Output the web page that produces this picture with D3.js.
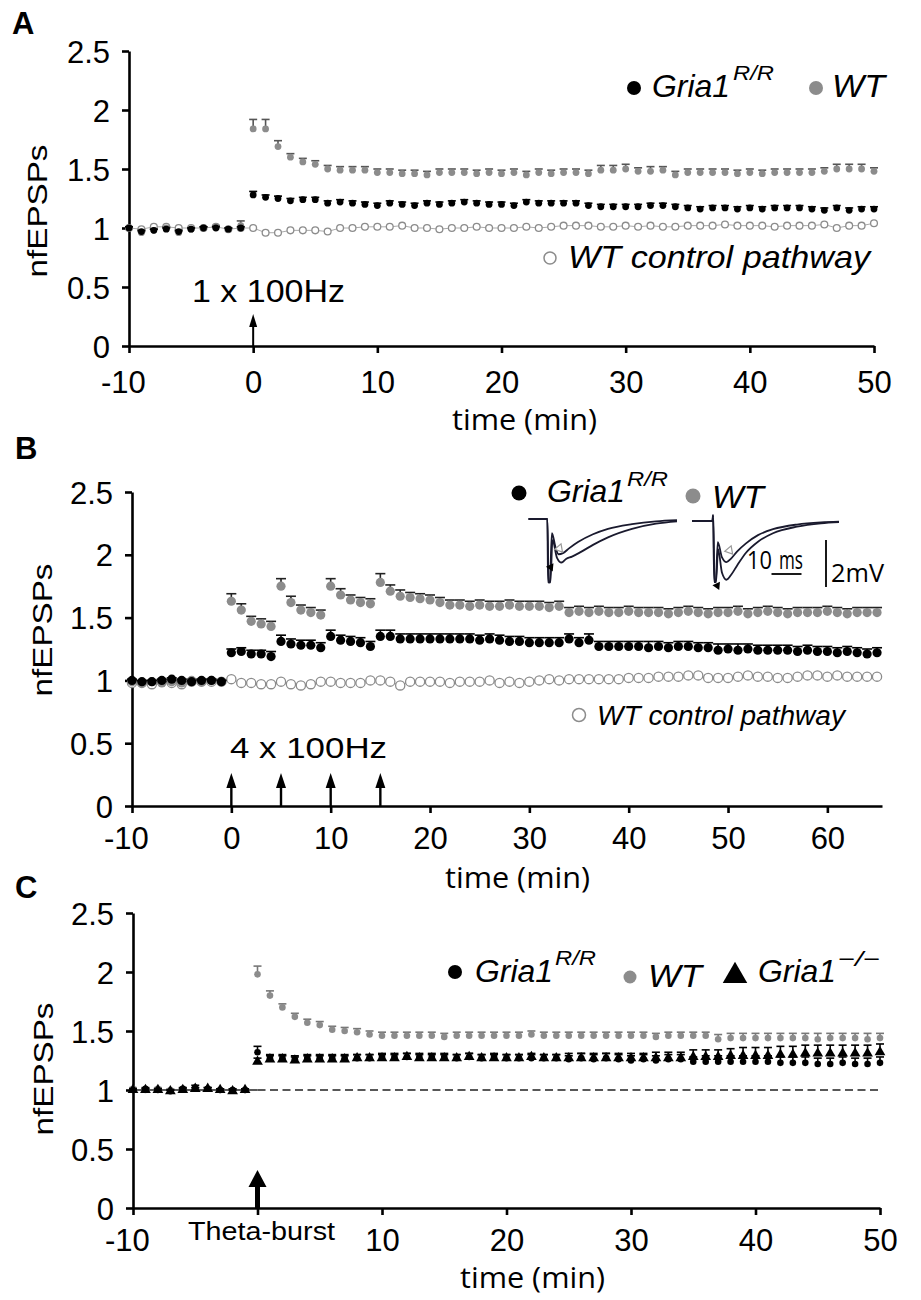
<!DOCTYPE html>
<html>
<head>
<meta charset="utf-8">
<script src="https://cdn.jsdelivr.net/npm/d3@7"></script>
<style>
  body { margin: 0; background: #fff; }
  svg { display: block; font-family: "Liberation Sans", Arial, sans-serif; }
</style>
</head>
<body>
<div id="chart"></div>
<script>
// ---------- data ----------
// time in minutes, one sample per minute
const timesA = d3.range(-10, 51);
const timesB = d3.range(-10, 66);
const timesC = d3.range(-10, 51);

const yTicks = [0, 0.5, 1, 1.5, 2, 2.5];
const xTicksA = [-10, 0, 10, 20, 30, 40, 50];
const xTicksB = [-10, 0, 10, 20, 30, 40, 50, 60];
const xTicksC = [-10, 0, 10, 20, 30, 40, 50];

// Panel A : 1 x 100Hz
const gria1A = [
  1.00, 0.97, 0.98, 0.99, 0.97, 0.99, 1.00, 1.00, 0.99, 1.00,
  1.28, 1.26, 1.25, 1.23, 1.24, 1.24, 1.21, 1.22, 1.21, 1.20,
  1.19, 1.21, 1.20, 1.19, 1.21, 1.20, 1.21, 1.22, 1.21, 1.20,
  1.20, 1.19, 1.22, 1.21, 1.21, 1.21, 1.21, 1.19, 1.18, 1.18,
  1.18, 1.18, 1.19, 1.19, 1.18, 1.17, 1.16, 1.17, 1.17, 1.16,
  1.17, 1.16, 1.17, 1.17, 1.17, 1.16, 1.15, 1.17, 1.15, 1.16,
  1.16];
const gria1ErrA = [
  0.01, 0.01, 0.01, 0.01, 0.01, 0.01, 0.01, 0.01, 0.01, 0.01,
  0.03, 0.02, 0.02, 0.02, 0.02, 0.02, 0.02, 0.02, 0.02, 0.02,
  0.02, 0.02, 0.02, 0.02, 0.02, 0.02, 0.02, 0.02, 0.02, 0.02,
  0.02, 0.02, 0.02, 0.02, 0.02, 0.02, 0.02, 0.02, 0.02, 0.02,
  0.02, 0.02, 0.02, 0.02, 0.02, 0.02, 0.02, 0.02, 0.02, 0.02,
  0.02, 0.02, 0.02, 0.02, 0.02, 0.02, 0.02, 0.02, 0.02, 0.02,
  0.02];
const wtA = [
  1.00, 0.96, 0.98, 1.00, 0.96, 0.99, 1.00, 1.01, 0.99, 1.02,
  1.84, 1.84, 1.69, 1.60, 1.56, 1.54, 1.50, 1.49, 1.49, 1.49,
  1.47, 1.47, 1.46, 1.46, 1.45, 1.47, 1.47, 1.47, 1.46, 1.47,
  1.46, 1.47, 1.45, 1.47, 1.46, 1.47, 1.47, 1.46, 1.49, 1.49,
  1.50, 1.48, 1.48, 1.49, 1.45, 1.47, 1.47, 1.47, 1.47, 1.46,
  1.47, 1.46, 1.47, 1.47, 1.47, 1.47, 1.48, 1.50, 1.50, 1.50,
  1.48];
const wtErrA = [
  0.01, 0.01, 0.01, 0.01, 0.01, 0.01, 0.01, 0.01, 0.01, 0.04,
  0.08, 0.08, 0.05, 0.03, 0.03, 0.03, 0.03, 0.03, 0.03, 0.03,
  0.03, 0.03, 0.03, 0.03, 0.03, 0.03, 0.03, 0.03, 0.03, 0.03,
  0.03, 0.03, 0.03, 0.03, 0.03, 0.03, 0.03, 0.03, 0.04, 0.04,
  0.04, 0.03, 0.04, 0.03, 0.03, 0.03, 0.03, 0.03, 0.03, 0.03,
  0.03, 0.03, 0.03, 0.03, 0.03, 0.03, 0.03, 0.04, 0.04, 0.04,
  0.03];
const ctrlA = [
  1.00, 0.99, 1.01, 1.01, 1.00, 1.00, 1.00, 1.01, 0.99, 1.00,
  1.00, 0.96, 0.96, 0.98, 0.98, 0.98, 0.97, 1.00, 1.00, 1.01,
  1.01, 1.01, 1.02, 1.00, 1.00, 0.99, 1.00, 1.00, 1.01, 1.00,
  1.00, 1.00, 1.01, 1.00, 1.01, 1.02, 1.02, 1.02, 1.01, 1.01,
  1.02, 1.01, 1.02, 1.01, 1.01, 1.02, 1.02, 1.02, 1.03, 1.02,
  1.02, 1.02, 1.01, 1.02, 1.02, 1.02, 1.03, 1.00, 1.02, 1.02,
  1.04];
const ctrlErrA = [
  0.01, 0.01, 0.01, 0.01, 0.01, 0.01, 0.01, 0.01, 0.01, 0.02,
  0.01, 0.01, 0.01, 0.01, 0.01, 0.01, 0.01, 0.01, 0.01, 0.01,
  0.01, 0.01, 0.01, 0.01, 0.01, 0.01, 0.01, 0.01, 0.01, 0.01,
  0.01, 0.01, 0.01, 0.01, 0.01, 0.01, 0.01, 0.02, 0.01, 0.01,
  0.01, 0.01, 0.02, 0.01, 0.01, 0.01, 0.01, 0.01, 0.01, 0.01,
  0.01, 0.01, 0.01, 0.01, 0.01, 0.01, 0.01, 0.01, 0.01, 0.01,
  0.01];

// Panel B : 4 x 100Hz
const gria1B = [
  1.00, 0.99, 0.99, 1.00, 1.01, 1.00, 0.99, 1.00, 1.00, 0.99,
  1.22, 1.23, 1.21, 1.21, 1.19, 1.31, 1.29, 1.28, 1.28, 1.26,
  1.35, 1.32, 1.31, 1.30, 1.27, 1.35, 1.35, 1.33, 1.33, 1.33,
  1.33, 1.33, 1.33, 1.33, 1.33, 1.32, 1.33, 1.32, 1.31, 1.31,
  1.30, 1.30, 1.30, 1.30, 1.33, 1.30, 1.32, 1.27, 1.27, 1.27,
  1.27, 1.27, 1.26, 1.27, 1.26, 1.27, 1.27, 1.26, 1.26, 1.24,
  1.25, 1.24, 1.25, 1.24, 1.24, 1.24, 1.24, 1.23, 1.24, 1.23,
  1.23, 1.22, 1.23, 1.22, 1.21, 1.22];
const gria1ErrB = [
  0.01, 0.01, 0.01, 0.01, 0.01, 0.01, 0.01, 0.01, 0.01, 0.01,
  0.03, 0.03, 0.03, 0.03, 0.04, 0.05, 0.04, 0.04, 0.04, 0.04,
  0.05, 0.04, 0.04, 0.04, 0.04, 0.05, 0.05, 0.04, 0.04, 0.04,
  0.04, 0.04, 0.04, 0.04, 0.04, 0.04, 0.04, 0.04, 0.04, 0.04,
  0.04, 0.04, 0.04, 0.04, 0.04, 0.04, 0.05, 0.04, 0.04, 0.04,
  0.04, 0.04, 0.05, 0.04, 0.04, 0.04, 0.04, 0.04, 0.04, 0.05,
  0.04, 0.05, 0.04, 0.04, 0.04, 0.04, 0.04, 0.04, 0.04, 0.04,
  0.04, 0.04, 0.04, 0.04, 0.04, 0.04];
const wtB = [
  0.99, 0.98, 0.99, 0.98, 0.99, 0.98, 1.00, 0.99, 1.00, 0.99,
  1.63, 1.56, 1.47, 1.45, 1.43, 1.75, 1.62, 1.56, 1.54, 1.52,
  1.75, 1.68, 1.64, 1.62, 1.61, 1.78, 1.71, 1.67, 1.66, 1.65,
  1.64, 1.62, 1.60, 1.60, 1.59, 1.60, 1.59, 1.59, 1.60, 1.59,
  1.59, 1.59, 1.58, 1.59, 1.54, 1.55, 1.54, 1.55, 1.54, 1.54,
  1.55, 1.54, 1.54, 1.54, 1.53, 1.54, 1.55, 1.54, 1.53, 1.54,
  1.54, 1.55, 1.53, 1.54, 1.55, 1.54, 1.53, 1.54, 1.54, 1.54,
  1.55, 1.54, 1.53, 1.54, 1.54, 1.54];
const wtErrB = [
  0.01, 0.01, 0.01, 0.01, 0.01, 0.01, 0.01, 0.01, 0.01, 0.01,
  0.06, 0.05, 0.04, 0.04, 0.04, 0.06, 0.05, 0.04, 0.04, 0.04,
  0.06, 0.05, 0.04, 0.04, 0.04, 0.07, 0.05, 0.05, 0.04, 0.04,
  0.04, 0.04, 0.04, 0.04, 0.04, 0.04, 0.04, 0.04, 0.04, 0.04,
  0.04, 0.04, 0.04, 0.04, 0.04, 0.04, 0.04, 0.04, 0.04, 0.04,
  0.04, 0.04, 0.04, 0.04, 0.04, 0.04, 0.04, 0.04, 0.04, 0.04,
  0.04, 0.04, 0.04, 0.04, 0.04, 0.04, 0.04, 0.04, 0.04, 0.04,
  0.04, 0.04, 0.04, 0.04, 0.04, 0.04];
const ctrlB = [
  0.98, 0.98, 0.97, 0.99, 0.98, 0.97, 0.99, 0.99, 0.99, 0.99,
  1.01, 0.98, 0.98, 0.97, 0.97, 0.99, 0.97, 0.96, 0.97, 0.99,
  0.99, 0.98, 0.98, 0.98, 1.00, 1.00, 0.99, 0.96, 0.99, 0.99,
  0.99, 0.99, 0.98, 0.99, 0.99, 0.99, 1.00, 0.98, 0.99, 0.98,
  0.99, 1.00, 1.01, 1.00, 1.01, 1.01, 1.01, 1.01, 1.01, 1.01,
  1.02, 1.02, 1.02, 1.03, 1.03, 1.03, 1.04, 1.04, 1.02, 1.02,
  1.02, 1.03, 1.04, 1.03, 1.03, 1.02, 1.02, 1.03, 1.04, 1.04,
  1.03, 1.04, 1.03, 1.03, 1.03, 1.03];
const ctrlErrB = [
  0.01, 0.01, 0.01, 0.01, 0.01, 0.01, 0.01, 0.01, 0.01, 0.01,
  0.01, 0.01, 0.01, 0.01, 0.01, 0.01, 0.01, 0.01, 0.01, 0.01,
  0.01, 0.01, 0.01, 0.01, 0.01, 0.01, 0.01, 0.01, 0.01, 0.01,
  0.01, 0.01, 0.01, 0.01, 0.01, 0.01, 0.01, 0.01, 0.01, 0.01,
  0.01, 0.01, 0.01, 0.01, 0.01, 0.02, 0.01, 0.01, 0.02, 0.01,
  0.02, 0.01, 0.01, 0.02, 0.02, 0.01, 0.01, 0.01, 0.02, 0.01,
  0.01, 0.01, 0.02, 0.01, 0.01, 0.01, 0.01, 0.01, 0.02, 0.02,
  0.01, 0.02, 0.01, 0.01, 0.01, 0.01];

// Panel C : theta-burst
const gria1C = [
  1.00, 1.01, 1.00, 0.99, 1.01, 1.02, 1.01, 1.00, 1.00, 1.00,
  1.32, 1.27, 1.27, 1.26, 1.27, 1.27, 1.27, 1.27, 1.27, 1.27,
  1.28, 1.28, 1.28, 1.28, 1.28, 1.28, 1.27, 1.28, 1.27, 1.28,
  1.27, 1.27, 1.27, 1.27, 1.27, 1.26, 1.27, 1.26, 1.27, 1.26,
  1.25, 1.26, 1.25, 1.26, 1.26, 1.24, 1.24, 1.24, 1.24, 1.24,
  1.24, 1.24, 1.23, 1.23, 1.23, 1.22, 1.22, 1.23, 1.22, 1.22,
  1.23];
const gria1ErrC = [
  0.01, 0.01, 0.01, 0.01, 0.01, 0.02, 0.01, 0.01, 0.01, 0.01,
  0.05, 0.03, 0.03, 0.03, 0.03, 0.03, 0.03, 0.03, 0.03, 0.03,
  0.03, 0.03, 0.03, 0.03, 0.03, 0.03, 0.03, 0.03, 0.03, 0.03,
  0.03, 0.03, 0.03, 0.03, 0.03, 0.03, 0.04, 0.04, 0.04, 0.04,
  0.04, 0.04, 0.04, 0.04, 0.04, 0.04, 0.05, 0.05, 0.05, 0.05,
  0.05, 0.05, 0.05, 0.05, 0.05, 0.05, 0.05, 0.05, 0.05, 0.05,
  0.05];
const koC = [
  1.00, 1.00, 1.00, 0.99, 1.00, 1.01, 1.01, 1.00, 0.99, 1.00,
  1.24, 1.26, 1.26, 1.25, 1.26, 1.26, 1.26, 1.26, 1.27, 1.27,
  1.27, 1.27, 1.28, 1.27, 1.27, 1.27, 1.27, 1.28, 1.27, 1.27,
  1.27, 1.27, 1.28, 1.27, 1.27, 1.27, 1.27, 1.27, 1.27, 1.27,
  1.27, 1.27, 1.27, 1.27, 1.27, 1.28, 1.28, 1.28, 1.29, 1.29,
  1.29, 1.29, 1.30, 1.30, 1.31, 1.31, 1.31, 1.31, 1.31, 1.31,
  1.32];
const koErrC = [
  0.01, 0.01, 0.01, 0.01, 0.01, 0.01, 0.01, 0.01, 0.01, 0.01,
  0.03, 0.03, 0.03, 0.03, 0.03, 0.03, 0.03, 0.03, 0.03, 0.03,
  0.03, 0.03, 0.03, 0.03, 0.03, 0.03, 0.03, 0.03, 0.03, 0.03,
  0.03, 0.03, 0.03, 0.03, 0.03, 0.04, 0.04, 0.04, 0.04, 0.04,
  0.04, 0.04, 0.05, 0.05, 0.05, 0.06, 0.06, 0.06, 0.06, 0.07,
  0.07, 0.07, 0.07, 0.07, 0.07, 0.07, 0.07, 0.07, 0.07, 0.07,
  0.07];
const wtC = [
  1.01, 1.00, 1.01, 1.00, 1.01, 1.01, 1.01, 1.00, 1.00, 1.00,
  1.98, 1.80, 1.70, 1.62, 1.57, 1.55, 1.51, 1.50, 1.49, 1.47,
  1.46, 1.46, 1.46, 1.46, 1.46, 1.45, 1.46, 1.46, 1.46, 1.46,
  1.46, 1.46, 1.47, 1.46, 1.46, 1.46, 1.46, 1.46, 1.46, 1.46,
  1.46, 1.46, 1.45, 1.46, 1.46, 1.46, 1.46, 1.43, 1.44, 1.44,
  1.44, 1.44, 1.44, 1.44, 1.44, 1.43, 1.44, 1.44, 1.44, 1.43,
  1.44];
const wtErrC = [
  0.01, 0.01, 0.01, 0.01, 0.01, 0.01, 0.01, 0.01, 0.01, 0.01,
  0.07, 0.04, 0.03, 0.03, 0.03, 0.03, 0.03, 0.03, 0.03, 0.03,
  0.03, 0.03, 0.03, 0.03, 0.03, 0.03, 0.03, 0.03, 0.03, 0.03,
  0.03, 0.03, 0.03, 0.03, 0.03, 0.03, 0.03, 0.03, 0.03, 0.03,
  0.03, 0.03, 0.03, 0.03, 0.03, 0.03, 0.03, 0.04, 0.04, 0.04,
  0.04, 0.04, 0.04, 0.04, 0.04, 0.05, 0.04, 0.04, 0.04, 0.05,
  0.04];

// stimulus times (min)
const stimA = [0];
const stimB = [0, 5, 10, 15];
const stimC = [0];

// example fEPSP traces for the inset of panel B: [ms after stimulus, mV]
const traceGriaSmall = [[-6.5, 0], [-0.2, 0], [0, -2.7], [0.6, -2.7], [1.3, -0.6], [2.5, -1.2], [3.5, -1.5], [5, -1.45], [7, -1.25], [10, -0.98], [15, -0.65], [20, -0.42], [28, -0.22], [36, -0.1], [43, -0.05]];
const traceGriaLarge = [[-6.5, 0], [-0.2, 0], [0.2, -2.7], [0.8, -2.7], [1.5, -0.9], [3, -1.65], [4.5, -1.85], [6, -1.7], [8, -1.6], [11, -1.4], [15, -1.1], [20, -0.78], [28, -0.42], [36, -0.2], [43, -0.1]];
const traceWtSmall = [[-7, 0], [-0.2, 0], [0, 0.25], [0.4, -2.6], [0.9, -2.6], [1.6, -0.9], [3, -1.55], [4.5, -1.75], [6, -1.6], [8, -1.3], [11, -0.95], [15, -0.6], [20, -0.35], [28, -0.15], [36, -0.06], [42, -0.03]];
const traceWtLarge = [[-7, 0], [-0.2, 0], [0.1, 0.25], [0.5, -2.6], [1.0, -2.6], [1.7, -1.2], [3, -2.2], [4.5, -2.5], [6, -2.3], [8, -1.9], [11, -1.35], [15, -0.88], [20, -0.52], [28, -0.24], [36, -0.1], [42, -0.05]];

// ---------- drawing ----------
const svg = d3.select("#chart").append("svg")
    .attr("width", 921)
    .attr("height", 1300);

const fontSans = "'Liberation Sans', Arial, sans-serif";
const fontOpen = "'Open Sans', 'DejaVu Sans', sans-serif";
const grey = "#8c8c8c";

function drawErrors(g, times, vals, errs, x, y, cap, color, width) {
    const d = times.map((t, i) => ({ t, v: vals[i], e: errs[i] }));
    const eg = g.append("g").attr("stroke", color).attr("stroke-width", width);
    eg.selectAll("line.v").data(d).enter().append("line")
        .attr("x1", p => x(p.t)).attr("x2", p => x(p.t))
        .attr("y1", p => y(p.v)).attr("y2", p => y(p.v + p.e));
    eg.selectAll("line.c").data(d).enter().append("line")
        .attr("x1", p => x(p.t) - cap / 2).attr("x2", p => x(p.t) + cap / 2)
        .attr("y1", p => y(p.v + p.e)).attr("y2", p => y(p.v + p.e));
}

function drawDots(g, times, vals, x, y, r, fill, stroke, sw) {
    g.append("g").selectAll("circle")
        .data(times.map((t, i) => ({ t, v: vals[i] })))
        .enter().append("circle")
        .attr("cx", p => x(p.t)).attr("cy", p => y(p.v)).attr("r", r)
        .attr("fill", fill).attr("stroke", stroke).attr("stroke-width", sw);
}

function drawPanel(cfg) {
    const g = svg.append("g");
    const x = d3.scaleLinear().domain(cfg.xDomain).range(cfg.xRange);
    const y = d3.scaleLinear().domain([0, 2.5]).range(cfg.yRange);

    // axes
    const xa = g.append("g")
        .attr("transform", `translate(0,${cfg.yRange[0]})`)
        .call(d3.axisBottom(x).tickValues(cfg.xTicks).tickSize(7).tickSizeOuter(0)
            .tickPadding(cfg.xPad).tickFormat(d => (cfg.hideZero && d === 0) ? "" : String(d)));
    const ya = g.append("g")
        .attr("transform", `translate(${cfg.xRange[0]},0)`)
        .call(d3.axisLeft(y).tickValues(yTicks).tickSize(7).tickSizeOuter(0)
            .tickPadding(12).tickFormat(d => String(d)));
    [xa, ya].forEach(a => {
        a.select(".domain").attr("stroke", "#000").attr("stroke-width", 2.6);
        a.selectAll(".tick line").attr("stroke", "#000").attr("stroke-width", 2.6);
        a.selectAll("text").attr("fill", "#000").style("font-family", fontSans).style("font-size", "31px");
    });
    xa.selectAll(".tick text").filter(d => d < 0).attr("dx", "-0.2em");
    ya.selectAll(".tick text").attr("dy", "0.36em");

    cfg.extra && cfg.extra(g, x, y);

    // control pathway
    if (cfg.ctrl) {
        g.append("path")
            .attr("d", d3.line().x((d, i) => x(cfg.times[i])).y(d => y(d))(cfg.ctrl))
            .attr("fill", "none").attr("stroke", "#aaa").attr("stroke-width", 1);
        drawErrors(g, cfg.times, cfg.ctrl, cfg.ctrlErr, x, y, cfg.cap - 2, "#888", 1.2);
        drawDots(g, cfg.times, cfg.ctrl, x, y, cfg.r, "#fff", grey, 1.3);
    }
    // WT
    drawErrors(g, cfg.times, cfg.wt, cfg.wtErr, x, y, cfg.cap, cfg.wtBar, 1.6);
    drawDots(g, cfg.times, cfg.wt, x, y, cfg.r, grey, "none", 0);
    // Gria1 R/R
    drawErrors(g, cfg.times, cfg.gria, cfg.griaErr, x, y, cfg.cap, "#000", 1.6);
    drawDots(g, cfg.times, cfg.gria, x, y, cfg.r, "#000", "none", 0);
    // Gria1 -/-
    if (cfg.ko) {
        drawErrors(g, cfg.times, cfg.ko, cfg.koErr, x, y, cfg.cap, "#000", 1.6);
        g.append("g").selectAll("path")
            .data(cfg.times.map((t, i) => ({ t, v: cfg.ko[i] })))
            .enter().append("path")
            .attr("d", d3.symbol(d3.symbolTriangle, 50))
            .attr("transform", p => `translate(${x(p.t)},${y(p.v)})`)
            .attr("fill", "#000");
    }

    // stimulation arrows
    cfg.stim.forEach(t => {
        const ax = x(t), base = y(0);
        const top = base - cfg.arrow.len;
        g.append("line")
            .attr("x1", ax).attr("x2", ax)
            .attr("y1", base).attr("y2", top + cfg.arrow.head - 1)
            .attr("stroke", "#000").attr("stroke-width", cfg.arrow.shaft);
        g.append("path")
            .attr("d", `M${ax},${top} L${ax - cfg.arrow.hw / 2},${top + cfg.arrow.head} L${ax + cfg.arrow.hw / 2},${top + cfg.arrow.head} Z`)
            .attr("fill", "#000");
    });

    // y label
    g.append("text")
        .attr("transform", `translate(${cfg.ylab[0]},${cfg.ylab[1]}) rotate(-90)`)
        .attr("text-anchor", "middle")
        .attr("textLength", 133).attr("lengthAdjust", "spacingAndGlyphs")
        .style("font-family", fontSans).style("font-size", "27px")
        .text("nfEPSPs");
    // x label
    g.append("text")
        .attr("x", cfg.xlab[0]).attr("y", cfg.xlab[1])
        .attr("textLength", 145).attr("lengthAdjust", "spacingAndGlyphs")
        .style("font-family", fontOpen).style("font-size", "30px")
        .text("time (min)");
    // panel letter
    g.append("text")
        .attr("x", cfg.letter[0]).attr("y", cfg.letter[1])
        .style("font-family", fontSans).style("font-size", "31px").style("font-weight", "bold")
        .text(cfg.letter[2]);
    return { g, x, y };
}

function label(x, y, txt, size, len, opts = {}) {
    const t = svg.append("text").attr("x", x).attr("y", y)
        .style("font-family", opts.family || fontSans)
        .style("font-size", size + "px")
        .style("font-style", opts.italic ? "italic" : "normal")
        .text(txt);
    if (len) t.attr("textLength", len).attr("lengthAdjust", "spacingAndGlyphs");
    return t;
}

function geneLabel(x, y, sup, size, supX, supY) {
    label(x, y, "Gria1", size, 78, { italic: true });
    label(supX, supY, sup, 21, 41, { italic: true });
}

// ---------- Panel A ----------
drawPanel({
    times: timesA, xDomain: [-10, 50], xRange: [129, 874], yRange: [346, 51],
    xTicks: xTicksA, xPad: 18, r: 3.4, cap: 8, wtBar: "#555",
    gria: gria1A, griaErr: gria1ErrA, wt: wtA, wtErr: wtErrA, ctrl: ctrlA, ctrlErr: ctrlErrA,
    stim: stimA, arrow: { len: 32, head: 13, hw: 8, shaft: 2 },
    ylab: [47, 211], xlab: [452, 430], letter: [12, 34, "A"]
});
svg.append("circle").attr("cx", 634).attr("cy", 88).attr("r", 7).attr("fill", "#000");
geneLabel(652, 97, "R/R", 32, 733, 80);
svg.append("circle").attr("cx", 816).attr("cy", 88).attr("r", 7).attr("fill", grey);
label(832, 97, "WT", 32, 53, { italic: true });
svg.append("circle").attr("cx", 550).attr("cy", 258).attr("r", 6).attr("fill", "#fff").attr("stroke", grey).attr("stroke-width", 1.5);
label(568, 268, "WT control pathway", 32, 302, { italic: true });
label(192, 302, "1 x 100Hz", 31, 153);

// ---------- Panel B ----------
drawPanel({
    times: timesB, xDomain: [-10, 65.5], xRange: [132, 882], yRange: [806, 492],
    xTicks: xTicksB, xPad: 14, r: 4.6, cap: 10, wtBar: "#222",
    gria: gria1B, griaErr: gria1ErrB, wt: wtB, wtErr: wtErrB, ctrl: ctrlB, ctrlErr: ctrlErrB,
    stim: stimB, arrow: { len: 33, head: 15, hw: 10, shaft: 2.4 },
    ylab: [52, 630], xlab: [445, 888], letter: [15, 459, "B"]
});
svg.append("circle").attr("cx", 519).attr("cy", 493).attr("r", 7.5).attr("fill", "#000");
geneLabel(547, 502, "R/R", 32, 627, 486);
svg.append("circle").attr("cx", 693).attr("cy", 496).attr("r", 7.5).attr("fill", grey);
label(712, 508, "WT", 32, 52, { italic: true });
svg.append("circle").attr("cx", 579).attr("cy", 715).attr("r", 6.5).attr("fill", "#fff").attr("stroke", grey).attr("stroke-width", 1.5);
label(597, 725, "WT control pathway", 27, 248, { italic: true });
label(230, 758, "4 x 100Hz", 30, 157);

// inset traces (panel B)
function drawTraces(x0, y0, traces) {
    const tx = d3.scaleLinear().domain([0, 10]).range([x0, x0 + 30]);
    const ty = d3.scaleLinear().domain([0, -2]).range([y0, y0 + 47]);
    const line = d3.line().x(d => tx(d[0])).y(d => ty(d[1])).curve(d3.curveMonotoneX);
    traces.forEach(tr => {
        svg.append("path").attr("d", line(tr))
            .attr("fill", "none").attr("stroke", "#1a1a2e").attr("stroke-width", 1.8);
    });
    return { tx, ty };
}
const ins1 = drawTraces(548, 519, [traceGriaSmall, traceGriaLarge]);
const ins2 = drawTraces(713, 521, [traceWtSmall, traceWtLarge]);
[[ins1, 0.9, -2.05, 3.8, -1.25], [ins2, 1.4, -2.75, 5.5, -1.25]].forEach(([ins, bx, by, ox, oy]) => {
    const px = ins.tx(bx), py = ins.ty(by);
    svg.append("path").attr("d", d3.symbol(d3.symbolTriangle, 30))
        .attr("transform", `translate(${px},${py}) rotate(35)`).attr("fill", "#000");
    const qx = ins.tx(ox), qy = ins.ty(oy);
    svg.append("path").attr("d", d3.symbol(d3.symbolTriangle, 30))
        .attr("transform", `translate(${qx},${qy}) rotate(20)`)
        .attr("fill", "#fff").attr("stroke", "#999").attr("stroke-width", 1.2);
});
// scale bars
label(747, 569, "10", 26, 25, { family: fontOpen });
label(779, 569, "ms", 26, 24, { family: fontOpen });
svg.append("line").attr("x1", ins2.tx(19.5)).attr("x2", ins2.tx(29.5)).attr("y1", 574).attr("y2", 574)
    .attr("stroke", "#000").attr("stroke-width", 1.8);
svg.append("line").attr("x1", 826).attr("x2", 826).attr("y1", 540).attr("y2", 540 + (ins2.ty(-2) - ins2.ty(0)))
    .attr("stroke", "#000").attr("stroke-width", 1.8);
label(831, 582, "2mV", 26, 53, { family: fontOpen });

// ---------- Panel C ----------
drawPanel({
    times: timesC, xDomain: [-10, 50], xRange: [133, 880], yRange: [1208, 913],
    xTicks: xTicksC, xPad: 14, r: 3.3, cap: 8, wtBar: "#777", hideZero: true,
    gria: gria1C, griaErr: gria1ErrC, wt: wtC, wtErr: wtErrC, ko: koC, koErr: koErrC,
    stim: stimC, arrow: { len: 38, head: 17, hw: 18, shaft: 5 },
    ylab: [53, 1069], xlab: [460, 1288], letter: [15, 898, "C"],
    extra: (g, x, y) => {
        g.append("line").attr("x1", x(-10)).attr("x2", x(0)).attr("y1", y(1)).attr("y2", y(1))
            .attr("stroke", "#222").attr("stroke-width", 1.5);
        g.append("line").attr("x1", x(0)).attr("x2", x(50)).attr("y1", y(1)).attr("y2", y(1))
            .attr("stroke", "#222").attr("stroke-width", 1.5).attr("stroke-dasharray", "8,4.5");
    }
});
svg.append("circle").attr("cx", 455).attr("cy", 972).attr("r", 7).attr("fill", "#000");
geneLabel(475, 982, "R/R", 32, 555, 965);
svg.append("circle").attr("cx", 630).attr("cy", 977).attr("r", 6.5).attr("fill", grey);
label(648, 987, "WT", 32, 54, { italic: true });
svg.append("path").attr("d", d3.symbol(d3.symbolTriangle, 260))
    .attr("transform", "translate(735,976)").attr("fill", "#000");
label(758, 982, "Gria1", 32, 78, { italic: true });
label(838, 966, "\u2212/\u2212", 21, 42, { italic: true });
label(188, 1240, "Theta-burst", 26, 147);
</script>
</body>
</html>
